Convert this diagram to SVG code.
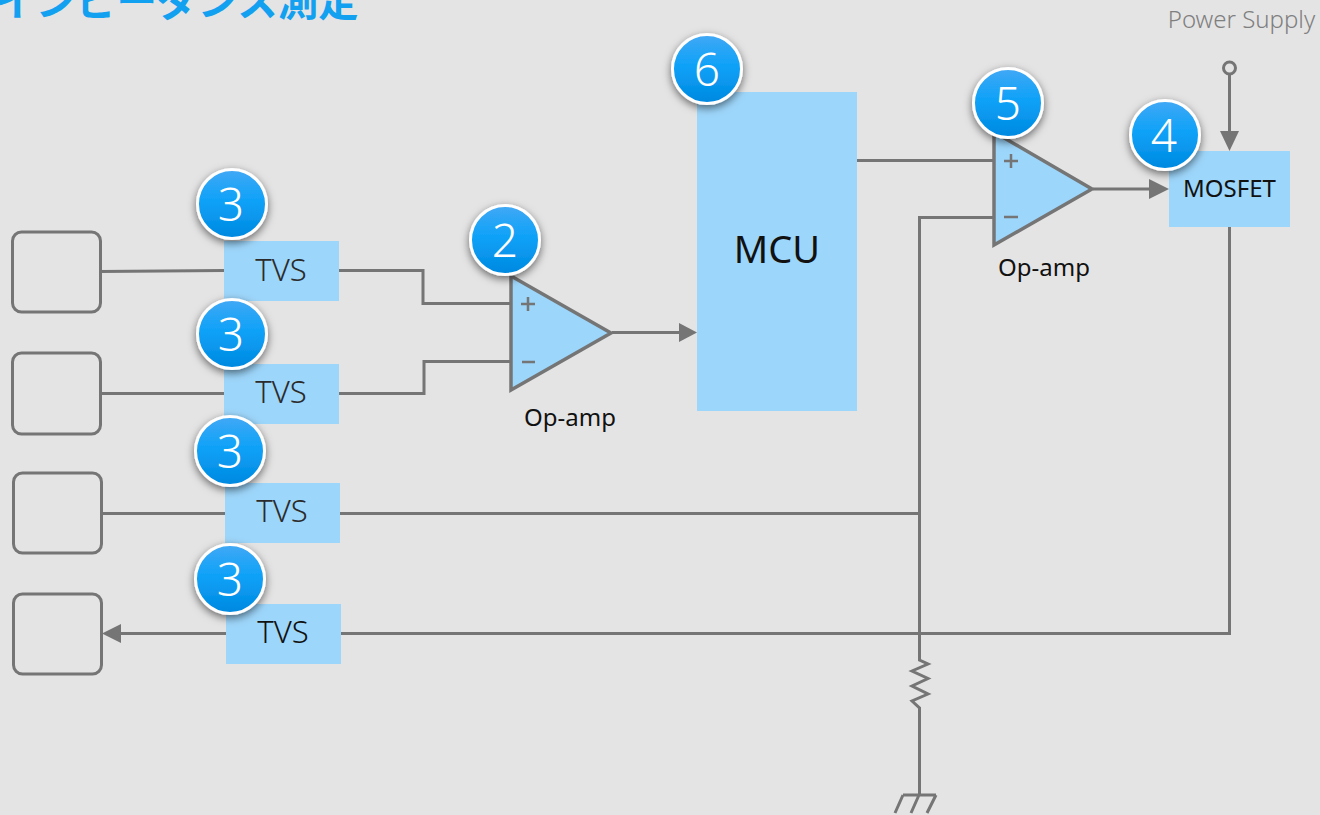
<svg xmlns="http://www.w3.org/2000/svg" width="1320" height="815" viewBox="0 0 1320 815">
<style>
.w{fill:none;stroke:#757575;stroke-width:3}
.box{fill:#9dd6fb}
.port{fill:none;stroke:#757575;stroke-width:3}
.amp{fill:#9dd6fb;stroke:#757575;stroke-width:3.500;stroke-linejoin:miter}
.ah{fill:#757575}
text{font-family:"Noto Sans","Open Sans","Liberation Sans",sans-serif}
.lb{font-size:31px;fill:#2b2b2b;text-anchor:middle;font-weight:300}
.op{font-size:24px;fill:#111;text-anchor:middle}
.bn{font-size:46px;fill:#fff;text-anchor:middle;font-weight:300}
.bc{fill:url(#bg);stroke:#fff;stroke-width:3;filter:url(#sh)}
</style>
<defs>
<linearGradient id="bg" x1="0" y1="0" x2="0" y2="1"><stop offset="0" stop-color="#42a8f5"/><stop offset="0.45" stop-color="#0ea2f8"/><stop offset="1" stop-color="#0088e0"/></linearGradient>
<filter id="sh" x="-30%" y="-30%" width="160%" height="170%"><feDropShadow dx="0" dy="3" stdDeviation="4" flood-color="#000" flood-opacity="0.55"/></filter>
</defs>
<rect width="1320" height="815" fill="#e4e4e4"/>
<text x="-5" y="16" font-size="40.500" font-weight="700" fill="#12a0f0" style="font-family:'Noto Sans CJK JP','Noto Sans',sans-serif">インピーダンス測定</text>
<text x="1241.500" y="28" font-size="24" fill="#7f7f7f" text-anchor="middle" font-weight="300">Power Supply</text>

<g id="connectors">
<path class="w" d="M100 271.500L224 270.500M339 270.500H423V303.500H511"/>
<path class="w" d="M100 393.500H224M339 393.500H424V361.500H511"/>
<path class="w" d="M101 513.500H225M339 513.500H919"/>
<path class="w" d="M226 633.500H118"/>
<path class="ah" d="M102 633.500L121 624V643Z"/>
<path class="w" d="M341 633.500H1229.500V226"/>
<path class="w" d="M612 332.500H680"/>
<path class="ah" d="M697 332.500L679 323V342Z"/>
<path class="w" d="M857 160.500H994"/>
<path class="w" d="M994 217.500H919.500V660L928 664L912 671L928 678.500L912 686L928 694L912 701L919.500 708V795"/>
<path class="w" d="M1093 189H1150"/>
<path class="ah" d="M1169 189L1149 179V199Z"/>
<circle class="port" cx="1229.500" cy="68" r="6"/>
<path class="w" d="M1229.500 74V133"/>
<path class="ah" d="M1229.500 151L1220 131H1239Z"/>
<path class="w" d="M903 795H936M903 795L895 813M919 795L911 813M936 795L927 813"/>
</g>

<g id="port1"><rect class="port" x="12.500" y="232" width="88" height="80" rx="9"/></g>
<g id="port2"><rect class="port" x="12.500" y="353" width="88" height="81" rx="9"/></g>
<g id="port3"><rect class="port" x="13.500" y="473" width="88" height="80" rx="9"/></g>
<g id="port4"><rect class="port" x="13.500" y="594" width="88" height="80" rx="9"/></g>

<g id="tvs1"><rect class="box" x="224" y="241" width="115" height="60"/><text class="lb" x="281" y="281">TVS</text></g>
<g id="tvs2"><rect class="box" x="224" y="364" width="115" height="60"/><text class="lb" x="281" y="403">TVS</text></g>
<g id="tvs3"><rect class="box" x="225" y="483" width="115" height="60"/><text class="lb" x="282" y="522">TVS</text></g>
<g id="tvs4"><rect class="box" x="226" y="604" width="115" height="60"/><text class="lb" x="283" y="643" style="fill:#111">TVS</text></g>

<g id="opamp1"><path class="amp" d="M511 276L611 333L511 390Z"/>
<path d="M521 304H535M528 297V311M522 362H535" fill="none" stroke="#757575" stroke-width="2.500"/>
<text class="op" x="570" y="426">Op-amp</text></g>

<g id="mcu"><rect class="box" x="697" y="92" width="160" height="319"/><text x="777" y="263" font-size="38" fill="#111" text-anchor="middle">MCU</text></g>

<g id="opamp2"><path class="amp" d="M994 132L1092 189L994 245Z"/>
<path d="M1004 161H1018M1011 154V168M1004 217H1018" fill="none" stroke="#757575" stroke-width="2.500"/>
<text class="op" x="1044" y="276">Op-amp</text></g>

<g id="mosfet"><rect class="box" x="1169" y="151" width="121" height="76"/><text x="1229.500" y="196.500" font-size="24" fill="#111" text-anchor="middle">MOSFET</text></g>

<g id="badge6"><circle class="bc" cx="707" cy="69" r="34.500"/><text class="bn" x="707" y="86">6</text></g>
<g id="badge5"><circle class="bc" cx="1008" cy="103" r="34.500"/><text class="bn" x="1008" y="120">5</text></g>
<g id="badge4"><circle class="bc" cx="1165" cy="135" r="34.500"/><text class="bn" x="1164" y="152">4</text></g>
<g id="badge2"><circle class="bc" cx="505" cy="240" r="34.500"/><text class="bn" x="505" y="257">2</text></g>
<g id="badge3a"><circle class="bc" cx="232" cy="204" r="34.500"/><text class="bn" x="231" y="221">3</text></g>
<g id="badge3b"><circle class="bc" cx="232" cy="334" r="34.500"/><text class="bn" x="231" y="351">3</text></g>
<g id="badge3c"><circle class="bc" cx="230" cy="451" r="34.500"/><text class="bn" x="230" y="468">3</text></g>
<g id="badge3d"><circle class="bc" cx="230" cy="579" r="34.500"/><text class="bn" x="230" y="596">3</text></g>
</svg>
